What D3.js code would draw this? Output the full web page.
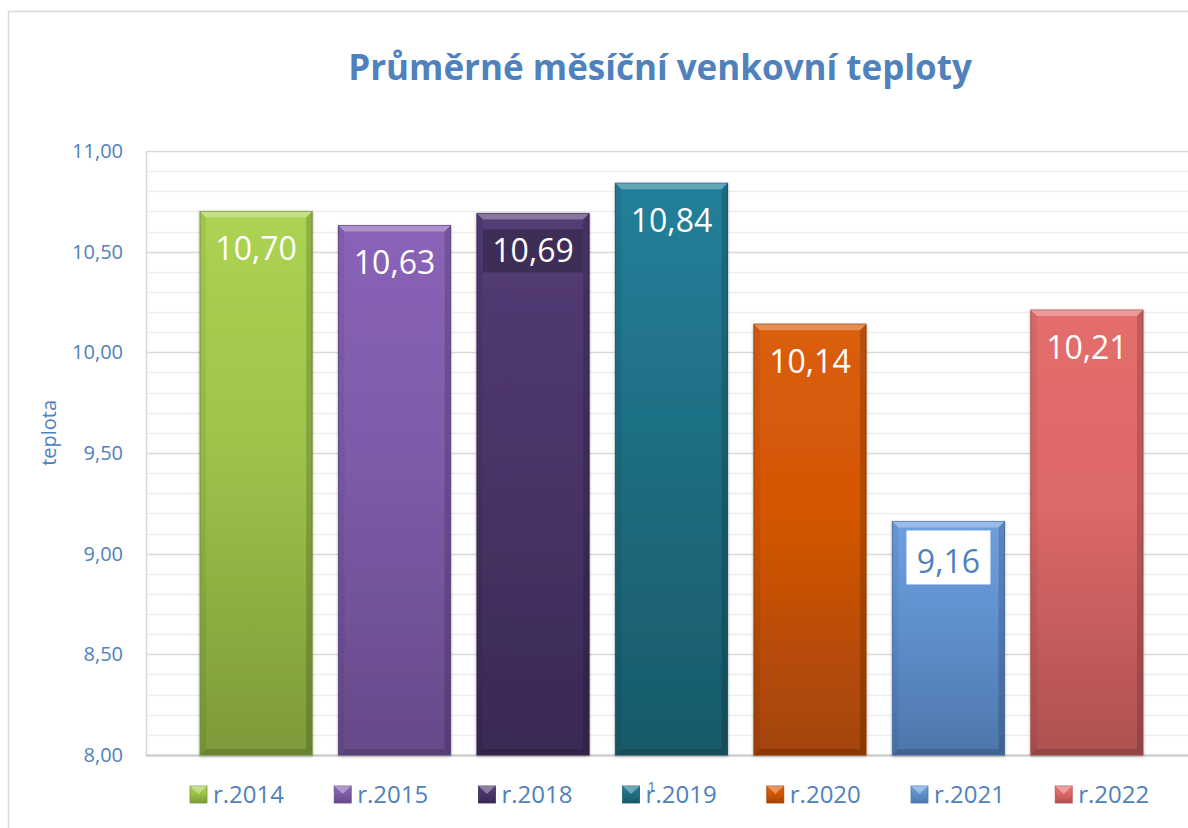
<!DOCTYPE html>
<html>
<head>
<meta charset="utf-8">
<script src="https://cdn.jsdelivr.net/npm/d3@7"></script>
<style>
  body { margin: 0; background: #fff; }
  svg { font-family: "Open Sans", "Noto Sans", sans-serif; }
</style>
</head>
<body>
<div id="chart"></div>
<script>
// Data
const years = ["r.2014", "r.2015", "r.2018", "r.2019", "r.2020", "r.2021", "r.2022"];
const temps = [10.70, 10.63, 10.69, 10.84, 10.14, 9.16, 10.21];
const yTicks = [8.0, 8.5, 9.0, 9.5, 10.0, 10.5, 11.0];
const categoryLabel = "1";
const chartTitle = "Průměrné měsíční venkovní teploty";
const yTitle = "teplota";

// colours: [top, middle, bottom]
const barColors = [
  ["#acd352", "#9dc24a", "#7c9a39"],
  ["#8a63b8", "#7d5ba8", "#664a89"],
  ["#543c76", "#4a3468", "#3a2953"],
  ["#22809a", "#1f6e82", "#175a69"],
  ["#db5e0a", "#d35605", "#a34408"],
  ["#6ea0e0", "#5f8fcd", "#4e76ab"],
  ["#e46e6c", "#dc6767", "#ae5151"],
];

const width = 1188;
const height = 828;
const margin = { top: 151, right: -9, bottom: 73, left: 146 };
const blue = "#4f81bd";

const svg = d3
  .select("#chart")
  .append("svg")
  .attr("width", width)
  .attr("height", height);

// Chart border
svg
  .append("path")
  .attr("d", `M8.5,${height + 5}V11.5H${width + 5}`)
  .attr("fill", "none")
  .attr("stroke", "#d9d9d9")
  .attr("stroke-width", 1.5);

// Scales
const x = d3
  .scaleBand()
  .domain(years)
  .range([margin.left, width - margin.right])
  .paddingInner(0.19)
  .paddingOuter(0.39);

const y = d3
  .scaleLinear()
  .domain([8, 11])
  .range([height - margin.bottom, margin.top]);

// Gradients
const defs = svg.append("defs");
barColors.forEach((c, i) => {
  const g = defs
    .append("linearGradient")
    .attr("id", "grad" + i)
    .attr("x1", 0)
    .attr("y1", 0)
    .attr("x2", 0)
    .attr("y2", 1);
  g.append("stop").attr("offset", "0%").attr("stop-color", c[0]);
  g.append("stop").attr("offset", "45%").attr("stop-color", c[1]);
  g.append("stop").attr("offset", "100%").attr("stop-color", c[2]);
});
const shadow = defs.append("filter").attr("id", "shadow")
  .attr("x", "-10%").attr("y", "-10%").attr("width", "120%").attr("height", "120%");
shadow.append("feDropShadow")
  .attr("dx", 0).attr("dy", 1).attr("stdDeviation", 1.5)
  .attr("flood-color", "#000").attr("flood-opacity", 0.3);

// Grid lines (minor every 0.1, major every 0.5)
const minor = d3.range(80, 111).map((d) => d / 10);
svg
  .append("g")
  .attr("class", "grid")
  .selectAll("line")
  .data(minor)
  .join("line")
  .attr("x1", margin.left)
  .attr("x2", width + 5)
  .attr("y1", (d) => Math.round(y(d)) + 0.5)
  .attr("y2", (d) => Math.round(y(d)) + 0.5)
  .attr("stroke", (d) => (Math.round(d * 10) % 5 === 0 ? "#d9d9d9" : "#ededed"))
  .attr("stroke-width", 1.5);

// Plot left border and bottom axis
svg
  .append("line")
  .attr("x1", margin.left + 0.5)
  .attr("x2", margin.left + 0.5)
  .attr("y1", y(11))
  .attr("y2", y(8))
  .attr("stroke", "#d9d9d9")
  .attr("stroke-width", 1.5);
svg
  .append("line")
  .attr("x1", margin.left)
  .attr("x2", width + 5)
  .attr("y1", y(8) + 0.5)
  .attr("y2", y(8) + 0.5)
  .attr("stroke", "#c8c8c8")
  .attr("stroke-width", 2);

// Y axis
const fmt = (d) => d3.format(".2f")(d).replace(".", ",");
svg
  .append("g")
  .attr("transform", `translate(${margin.left - 23},0)`)
  .call(d3.axisLeft(y).tickValues(yTicks).tickFormat(fmt).tickSize(0).tickPadding(0))
  .call((g) => g.select(".domain").remove())
  .call((g) =>
    g
      .selectAll("text")
      .attr("fill", blue)
      .attr("font-size", 20)
      .attr("font-family", "Open Sans")
  );

svg
  .append("text")
  .attr("transform", `translate(56,${y(9.6)}) rotate(-90)`)
  .attr("text-anchor", "middle")
  .attr("fill", blue)
  .attr("font-size", 20)
  .text(yTitle);

// Category label (behind legend)
svg
  .append("text")
  .attr("x", (x.range()[0] + x.range()[1]) / 2 - 20)
  .attr("y", y(8) + 37)
  .attr("text-anchor", "middle")
  .attr("fill", blue)
  .attr("font-size", 15)
  .text(categoryLabel);

// Bars
const bev = 6;
const bar = svg
  .append("g")
  .attr("class", "bars")
  .selectAll("g")
  .data(years.map((yr, i) => ({ year: yr, value: temps[i], i })))
  .join("g")
  .attr("filter", "url(#shadow)");

bar
  .append("rect")
  .attr("x", (d) => x(d.year))
  .attr("y", (d) => y(d.value))
  .attr("width", x.bandwidth())
  .attr("height", (d) => y(8) - y(d.value))
  .attr("fill", (d) => `url(#grad${d.i})`)
  .attr("stroke", (d) => barColors[d.i][2])
  .attr("stroke-width", 1);

// bevel: top light trapezoid, darker sides
bar
  .append("path")
  .attr("d", (d) => {
    const x0 = x(d.year), x1 = x0 + x.bandwidth(), t = y(d.value);
    return `M${x0},${t}H${x1}L${x1 - bev},${t + bev}H${x0 + bev}Z`;
  })
  .attr("fill", "#fff")
  .attr("opacity", 0.3);
bar
  .append("path")
  .attr("d", (d) => {
    const x0 = x(d.year), t = y(d.value), b = y(8);
    return `M${x0},${t}L${x0 + bev},${t + bev}V${b - bev}L${x0},${b}Z`;
  })
  .attr("fill", "#000")
  .attr("opacity", 0.06);
bar
  .append("path")
  .attr("d", (d) => {
    const x1 = x(d.year) + x.bandwidth(), t = y(d.value), b = y(8);
    return `M${x1},${t}L${x1 - bev},${t + bev}V${b - bev}L${x1},${b}Z`;
  })
  .attr("fill", "#000")
  .attr("opacity", 0.16);
bar
  .append("path")
  .attr("d", (d) => {
    const x0 = x(d.year), x1 = x0 + x.bandwidth(), b = y(8);
    return `M${x0},${b}H${x1}L${x1 - bev},${b - bev}H${x0 + bev}Z`;
  })
  .attr("fill", "#000")
  .attr("opacity", 0.15);

// Data labels
const labels = svg
  .append("g")
  .attr("class", "labels")
  .selectAll("g")
  .data(years.map((yr, i) => ({ year: yr, value: temps[i], i })))
  .join("g")
  .attr(
    "transform",
    (d) => `translate(${x(d.year) + x.bandwidth() / 2},${y(d.value) + 37})`
  );

// label boxes for 2018 (dark) and 2021 (white)
labels
  .filter((d) => d.year === "r.2018")
  .append("rect")
  .attr("x", -50)
  .attr("y", -21)
  .attr("width", 100)
  .attr("height", 43)
  .attr("fill", "#3e2d56");
labels
  .filter((d) => d.year === "r.2021")
  .append("rect")
  .attr("x", -42)
  .attr("y", -28)
  .attr("width", 84)
  .attr("height", 54)
  .attr("fill", "#fff");

labels
  .append("text")
  .attr("text-anchor", "middle")
  .attr("dy", "0.36em")
  .attr("y", (d) => (d.year === "r.2021" ? 3 : 0))
  .attr("font-size", 32)
  .attr("fill", (d) => (d.year === "r.2021" ? blue : "#fff"))
  .text((d) => fmt(d.value));

// Legend
const legend = svg
  .append("g")
  .attr("class", "legend")
  .selectAll("g")
  .data(years.map((yr, i) => ({ year: yr, i })))
  .join("g")
  .attr("transform", (d) => `translate(${190 + d.i * 144.2},786)`);

legend
  .append("rect")
  .attr("width", 17)
  .attr("height", 17)
  .attr("fill", (d) => `url(#grad${d.i})`)
  .attr("stroke", (d) => barColors[d.i][2])
  .attr("stroke-width", 0.8);
legend
  .append("path")
  .attr("d", "M0,0H17L8.5,8Z")
  .attr("fill", "#fff")
  .attr("opacity", 0.35);
legend
  .append("text")
  .attr("x", 23)
  .attr("y", 8.5)
  .attr("dy", "0.36em")
  .attr("font-size", 24)
  .attr("fill", blue)
  .text((d) => d.year);

// Title
svg
  .append("text")
  .attr("x", 660)
  .attr("y", 67)
  .attr("dy", "0.36em")
  .attr("text-anchor", "middle")
  .attr("font-size", 35)
  .attr("font-weight", "bold")
  .attr("fill", blue)
  .text(chartTitle);
</script>
</body>
</html>
